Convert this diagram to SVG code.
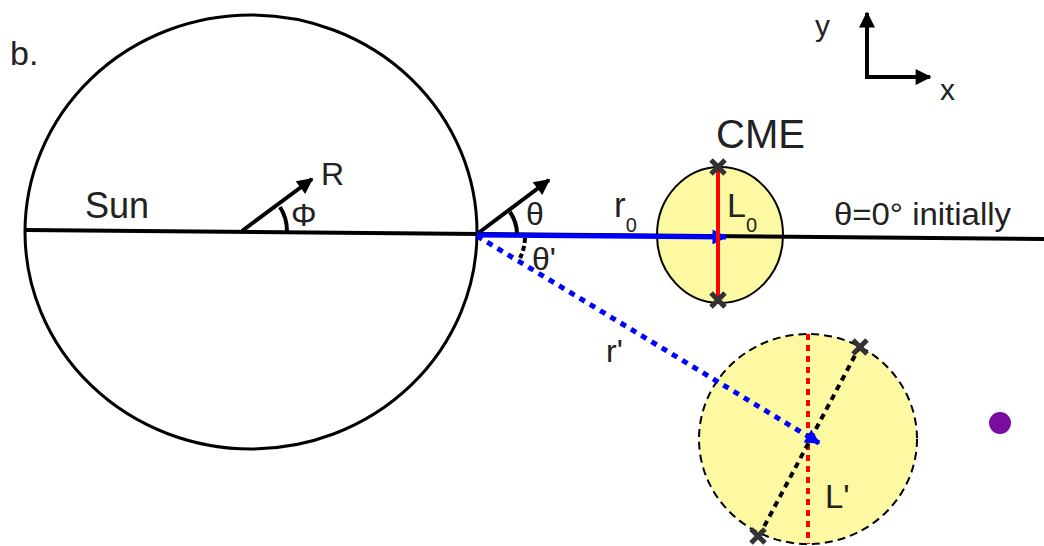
<svg xmlns="http://www.w3.org/2000/svg" width="1044" height="546" viewBox="0 0 1044 546">
<style>
text{font-family:"Liberation Sans",Arial,sans-serif;fill:#222}
.k{stroke:#000;stroke-width:4;fill:none}
.xm{stroke:#333;stroke-width:5;stroke-linecap:butt}
</style>
<defs>
<marker id="ah" viewBox="0 0 10 10" refX="9" refY="5" markerWidth="4.5" markerHeight="4" orient="auto" markerUnits="strokeWidth"><path d="M0,0L10,5L0,10z" fill="#000"/></marker>
<marker id="ab" viewBox="0 0 10 10" refX="9" refY="5" markerWidth="3.6" markerHeight="3" orient="auto" markerUnits="strokeWidth"><path d="M0,0L10,5L0,10z" fill="#00f"/></marker>
</defs>
<rect width="1044" height="546" fill="#fff"/>
<text x="10" y="65" font-size="34">b.</text>
<g id="sun">
<ellipse cx="251" cy="232" rx="226" ry="217" fill="none" stroke="#000" stroke-width="3"/>
<text x="85" y="218" font-size="36">Sun</text>
</g>
<g id="cme">
<ellipse cx="720" cy="235" rx="63" ry="68" fill="#fdf9a3" stroke="#000" stroke-width="2"/>
<text x="716" y="148" font-size="40">CME</text>
</g>
<g id="cme2">
<ellipse cx="808" cy="439" rx="109" ry="105" fill="#fdf9a3" stroke="#000" stroke-width="2" stroke-dasharray="8,5"/>
</g>
<g id="connectors">
<line x1="25" y1="230" x2="1044" y2="239" stroke="#000" stroke-width="4"/>
<line x1="242" y1="231" x2="312" y2="179" class="k" marker-end="url(#ah)"/>
<path d="M287,231 A45,45 0 0 0 280,207" class="k" stroke-width="2"/>
<line x1="477" y1="234" x2="549" y2="180" class="k" marker-end="url(#ah)"/>
<path d="M517,234 A40,40 0 0 0 510,212" class="k" stroke-width="2"/>
<path d="M525,238 A48,48 0 0 1 520,258" class="k" stroke-width="2" stroke-dasharray="5,3"/>
<line x1="477" y1="235" x2="726" y2="237" stroke="#00f" stroke-width="5" marker-end="url(#ab)"/>
<line x1="718" y1="168" x2="718" y2="302" stroke="#f00" stroke-width="4"/>
<line x1="808" y1="334" x2="808" y2="544" stroke="#f00" stroke-width="4" stroke-dasharray="6,5"/>
<line x1="860" y1="346" x2="758" y2="538" stroke="#000" stroke-width="4" stroke-dasharray="6,5"/>
<line x1="477" y1="236" x2="819" y2="443" stroke="#00f" stroke-width="5" stroke-dasharray="6,6" marker-end="url(#ab)"/>
<line x1="867" y1="77" x2="867" y2="13" class="k" marker-end="url(#ah)"/>
<line x1="865" y1="77" x2="930" y2="77" class="k" marker-end="url(#ah)"/>
<path class="xm" d="M711,160L725,174M725,160L711,174M711,293L725,307M725,293L711,307M853,340L867,354M867,340L853,354M751,529L765,543M765,529L751,543"/>
</g>
<g id="labels">
<text x="321" y="185" font-size="32">R</text>
<text x="291" y="226" font-size="32">Φ</text>
<text x="526" y="225" font-size="32">θ</text>
<text x="532" y="270" font-size="32">θ'</text>
<text x="614" y="217" font-size="35">r<tspan dy="15" font-size="20">0</tspan></text>
<text x="727" y="217" font-size="34">L<tspan dy="15" font-size="20">0</tspan></text>
<text x="834" y="225" font-size="31" textLength="177" lengthAdjust="spacingAndGlyphs">θ=0° initially</text>
<text x="606" y="362" font-size="32">r'</text>
<text x="825" y="508" font-size="33">L'</text>
<text x="815" y="36" font-size="30">y</text>
<text x="940" y="100" font-size="30">x</text>
</g>
<g id="dot"><circle cx="1000" cy="423" r="11" fill="#7b0d9e"/></g>
</svg>
